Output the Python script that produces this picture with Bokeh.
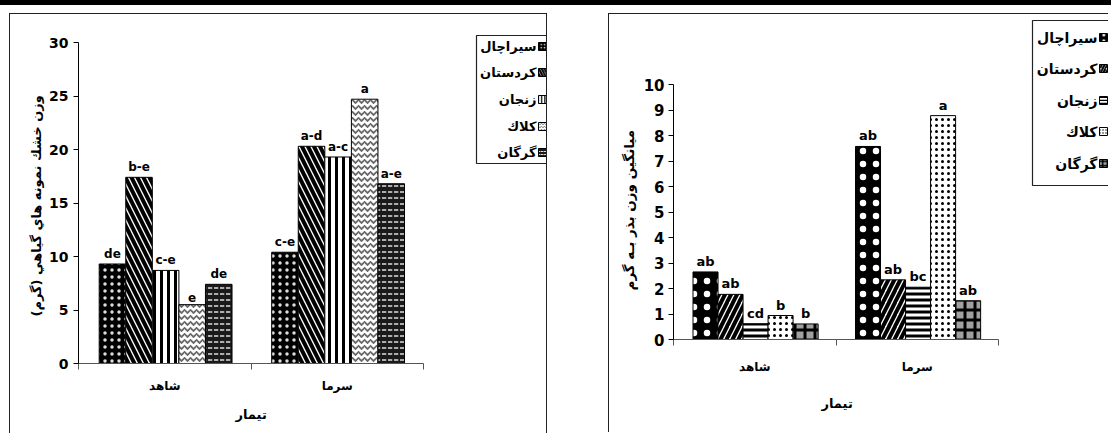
from bokeh.plotting import figure
from bokeh.models import Range1d, FixedTicker, BoxAnnotation, Label, Div, Title
from bokeh.layouts import row, column
from bokeh.core.properties import value
from bokeh.embed import file_html
from bokeh.resources import INLINE

# ---------------- data ----------------
treatments = ["شاهد", "سرما"]
treatment_title = "تيمار"
genotypes = ["سيراچال", "كردستان", "زنجان", "كلاك", "گرگان"]

dry_title = "وزن خشك نمونه هاي گياهي (گرم)"
dry_control = [9.3, 17.4, 8.7, 5.5, 7.4]
dry_cold = [10.4, 20.3, 19.3, 24.7, 16.8]
dry_letters_control = ["de", "b-e", "c-e", "e", "de"]
dry_letters_cold = ["c-e", "a-d", "a-c", "a", "a-e"]
dry_ticks = [0, 5, 10, 15, 20, 25, 30]

seed_title = "ميانگين وزن بذر بـه گرم"
seed_control = [2.65, 1.77, 0.62, 0.94, 0.61]
seed_cold = [7.57, 2.34, 2.05, 8.78, 1.52]
seed_letters_control = ["ab", "ab", "cd", "b", "b"]
seed_letters_cold = ["ab", "ab", "bc", "a", "ab"]
seed_ticks = [0, 1, 2, 3, 4, 5, 6, 7, 8, 9, 10]

# ---------------- styles ----------------
FONT = "DejaVu Sans"
dry_styles = [
    dict(fill_color="black", hatch_pattern="dot", hatch_color="#dddddd", hatch_scale=7, hatch_weight=1),
    dict(fill_color="white", hatch_pattern="left_diagonal_line", hatch_color="black", hatch_scale=12, hatch_weight=4),
    dict(fill_color="white", hatch_pattern="vertical_line", hatch_color="black", hatch_scale=7, hatch_weight=3),
    dict(fill_color="white", hatch_pattern="horizontal_wave", hatch_color="#6a6a6a", hatch_scale=6, hatch_weight=1.8),
    dict(fill_color="#1a1a1a", hatch_pattern="horizontal_dash", hatch_color="#dddddd", hatch_scale=6, hatch_weight=1.5),
]
seed_styles = [
    dict(fill_color="black", hatch_pattern="dot", hatch_color="white", hatch_scale=13, hatch_weight=1.2),
    dict(fill_color="white", hatch_pattern="right_diagonal_line", hatch_color="black", hatch_scale=12, hatch_weight=4),
    dict(fill_color="white", hatch_pattern="horizontal_line", hatch_color="black", hatch_scale=6, hatch_weight=3),
    dict(fill_color="white", hatch_pattern="dot", hatch_color="black", hatch_scale=6, hatch_weight=3),
    dict(fill_color="#a0a0a0", hatch_pattern="cross", hatch_color="black", hatch_scale=10, hatch_weight=3),
]

BAR_OFFSET = 0.12
BAR_WIDTH = 0.154


def build(cfg):
    cx, cy, W, H = cfg["canvas"]          # page position / size of canvas
    B = cfg["bottom"]                     # bottom border (px)
    fl = cfg["axis_x"]                    # page x of y axis (frame left)
    fb = cy + H - B                       # page y of x axis (frame bottom)
    ft, fr = cy, cx + W                   # frame top / right = canvas edges
    top_px, right_px = cfg["scale_px"]    # page y of top tick, page x of axis end
    n = len(treatments)
    y_end = cfg["ticks"][-1] * (fb - ft) / (fb - top_px)
    x_end = n * (fr - fl) / (right_px - fl)

    p = figure(width=W, height=H, output_backend="svg", toolbar_location=None,
               x_range=Range1d(0, x_end), y_range=Range1d(0, y_end),
               min_border_left=fl - cx, min_border_right=0,
               min_border_top=0, min_border_bottom=B,
               margin=cfg["margin"], styles=cfg["css"])
    p.xgrid.grid_line_color = None
    p.ygrid.grid_line_color = None
    p.outline_line_color = None
    p.background_fill_color = "white"
    p.border_fill_color = "white"

    def sx(px):
        return px - fl

    def sy(py):
        return fb - py

    def box(l, r, t, b, **kw):
        p.add_layout(BoxAnnotation(left=sx(l), right=sx(r), top=sy(t), bottom=sy(b),
                                   left_units="screen", right_units="screen",
                                   top_units="screen", bottom_units="screen", **kw))

    # bars + letters
    for i, g in enumerate(genotypes):
        xs = [t + BAR_OFFSET + (i + 0.5) * BAR_WIDTH for t in range(n)]
        tops = [cfg["control"][i], cfg["cold"][i]]
        letters = [cfg["lc"][i], cfg["lk"][i]]
        p.vbar(x=xs, top=tops, bottom=0, width=BAR_WIDTH, line_color="black", line_width=1,
               **cfg["styles"][i])
        p.text(x=xs, y=tops, text=letters, text_align="center", text_baseline="bottom",
               y_offset=-3, text_font=value(FONT), text_font_style="bold",
               text_font_size=cfg["letter_size"], text_color="black")

    # y axis
    ya = p.yaxis[0]
    ya.ticker = FixedTicker(ticks=cfg["ticks"])
    ya.bounds = (0, cfg["ticks"][-1])
    ya.major_tick_out = 5
    ya.major_tick_in = 0
    ya.minor_tick_line_color = None
    ya.axis_line_color = "black"
    ya.major_tick_line_color = "black"
    ya.major_label_standoff = cfg["ylab_standoff"]
    ya.major_label_text_font = FONT
    ya.major_label_text_font_style = "bold"
    ya.major_label_text_font_size = cfg["ytick_size"]
    ya.major_label_text_color = "black"

    # x axis: labels at group centres, ticks at group boundaries
    xa = p.xaxis[0]
    xa.ticker = FixedTicker(ticks=[t + 0.5 for t in range(n)], minor_ticks=list(range(n + 1)))
    xa.bounds = (0, n)
    xa.major_label_overrides = {t + 0.5: name for t, name in enumerate(treatments)}
    xa.major_tick_line_color = None
    xa.major_tick_out = 0
    xa.major_tick_in = 0
    xa.minor_tick_out = 6
    xa.minor_tick_in = 0
    xa.minor_tick_line_color = "#555555"
    xa.axis_line_color = "#555555"
    xa.major_label_standoff = cfg["xlab_standoff"]
    xa.major_label_text_font = FONT
    xa.major_label_text_font_style = "bold"
    xa.major_label_text_font_size = "12px"
    xa.major_label_text_color = "black"

    # axis titles (placed as side titles so they can be offset along the axis)
    p.add_layout(Title(text=cfg["title"], align="left", offset=cfg["ytitle_offset"],
                       vertical_align="middle", standoff=cfg["ytitle_standoff"],
                       text_font=FONT, text_font_style="bold",
                       text_font_size=cfg["ytitle_size"], text_color="black"), "left")
    p.add_layout(Title(text=treatment_title, align="left", offset=cfg["xtitle_offset"],
                       vertical_align="top", standoff=cfg["xtitle_standoff"],
                       text_font=FONT, text_font_style="bold",
                       text_font_size="13px", text_color="black"), "below")

    # legend (right-to-left: text, then swatch)
    ll, lr, lt, lb = cfg["legend_box"]
    box(ll, lr, lt, lb, fill_color="white", fill_alpha=1, line_color="#222222",
        line_width=1.2, line_alpha=1)
    txt_r, sw_l, sw = cfg["legend_x"]
    for i, g in enumerate(genotypes):
        yy = cfg["legend_y"][i]
        p.add_layout(Label(x=sx(txt_r), y=sy(yy), x_units="screen", y_units="screen",
                           text=g, text_align="right", text_baseline="middle",
                           text_font=FONT, text_font_style="bold",
                           text_font_size=cfg["legend_size"], text_color="black"))
        st = dict(cfg["styles"][i])
        st["hatch_scale"] = max(3, st["hatch_scale"] * 0.45)
        st["hatch_weight"] = max(1, st["hatch_weight"] * 0.5)
        box(sw_l, sw_l + sw, yy - sw / 2, yy + sw / 2, fill_alpha=1, line_color="black",
            line_width=1, line_alpha=1, **st)
    return p


FRAME_LINE = "1px solid #222222"
left_cfg = dict(
    canvas=(10, 14, 538, 420), bottom=71, axis_x=78, scale_px=(42, 423),
    margin=(8, 0, 0, 9),
    css={"border-left": FRAME_LINE, "border-top": FRAME_LINE, "border-right": FRAME_LINE},
    ticks=dry_ticks, control=dry_control, cold=dry_cold,
    lc=dry_letters_control, lk=dry_letters_cold, styles=dry_styles,
    letter_size="12px", ylab_standoff=5, ytick_size="14px",
    title=dry_title, ytitle_offset=47, ytitle_standoff=4, ytitle_size="13px",
    xlab_standoff=9, xtitle_offset=157, xtitle_standoff=22,
    legend_box=(476, 552, 35, 163), legend_x=(536, 538, 8),
    legend_y=[46, 72, 99, 126, 152], legend_size="13px",
)
right_cfg = dict(
    canvas=(611, 14, 500, 419), bottom=94, axis_x=675, scale_px=(84, 1000),
    margin=(8, 0, 0, 61),
    css={"border-left": FRAME_LINE, "border-top": FRAME_LINE},
    ticks=seed_ticks, control=seed_control, cold=seed_cold,
    lc=seed_letters_control, lk=seed_letters_cold, styles=seed_styles,
    letter_size="13px", ylab_standoff=4, ytick_size="15px",
    title=seed_title, ytitle_offset=49, ytitle_standoff=6, ytitle_size="13.5px",
    xlab_standoff=14, xtitle_offset=148, xtitle_standoff=38,
    legend_box=(1034, 1130, 20, 185), legend_x=(1099, 1101, 8),
    legend_y=[37, 68, 100, 131, 163], legend_size="14px",
)

p1 = build(left_cfg)
p2 = build(right_cfg)
bar = Div(text="", width=1111, height=5, styles={"background-color": "black"}, margin=0)
# each panel sits in its own column so that the two plot frames are not aligned
layout = column(bar, row(column(p1, margin=0), column(p2, margin=0), margin=0), margin=0)

open("out.html", "w").write(file_html(layout, INLINE))
